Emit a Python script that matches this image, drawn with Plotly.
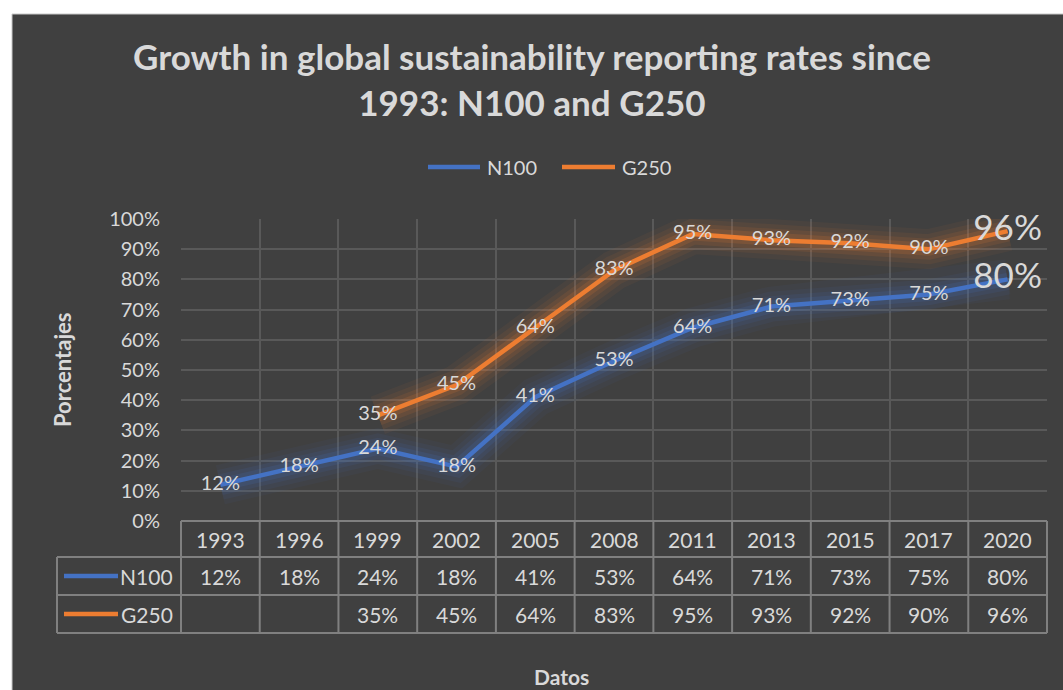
import plotly.graph_objects as go

years = ["1993", "1996", "1999", "2002", "2005", "2008", "2011", "2013", "2015", "2017", "2020"]
n100 = [12, 18, 24, 18, 41, 53, 64, 71, 73, 75, 80]
g250 = [None, None, 35, 45, 64, 83, 95, 93, 92, 90, 96]
series_names = ["N100", "G250"]
colors = ["#4472C4", "#ED7D31"]

BG = "#404040"
TXT = "#d9d9d9"
GRID = "#595959"
TBL = "#808080"
FONT = "Lato"

W, H = 1063, 690
L, R, T, B = 181, 16, 219, 169
pw = W - L - R
ph = H - T - B

def px2x(px):
    return (px - L) / pw

def px2y(py):
    return (H - B - py) / ph

fig = go.Figure()

# glow layers
for vals, col in zip([n100, g250], colors):
    for w, op in [(40, 0.05), (30, 0.07), (21, 0.10), (13, 0.15)]:
        fig.add_trace(go.Scatter(x=years, y=vals, mode="lines", line=dict(color=col, width=w),
                                 opacity=op, showlegend=False, hoverinfo="skip", connectgaps=False))

# main lines
for name, vals, col in zip(series_names, [n100, g250], colors):
    fig.add_trace(go.Scatter(x=years, y=vals, mode="lines", name=name, showlegend=False,
                             line=dict(color=col, width=4.5)))

# data labels
for vals in [n100, g250]:
    txt = [None if v is None else f"{v}%" for v in vals]
    sizes = [20] * (len(vals) - 1) + [35]
    fig.add_trace(go.Scatter(x=years, y=vals, mode="text", text=txt, textposition="middle center",
                             textfont=dict(color=TXT, size=sizes, family=FONT),
                             showlegend=False, hoverinfo="skip", cliponaxis=False))

shapes = []
annotations = []

# dark panel
shapes.append(dict(type="rect", xref="paper", yref="paper", x0=px2x(12), x1=px2x(W + 5),
                   y0=px2y(H + 5), y1=px2y(14), fillcolor=BG, line=dict(color="#c8c8c8", width=1),
                   layer="below"))

# legend (drawn)
leg_y = px2y(167)
for name, col, lx0, lx1, tx in zip(series_names, colors, [428, 562], [480, 615], [485, 620]):
    shapes.append(dict(type="line", xref="paper", yref="paper", x0=px2x(lx0), x1=px2x(lx1),
                       y0=leg_y, y1=leg_y, line=dict(color=col, width=4.5)))
    annotations.append(dict(x=px2x(tx), y=leg_y, xref="paper", yref="paper", text=name, showarrow=False,
                            xanchor="left", yanchor="middle", font=dict(color=TXT, size=20, family=FONT)))

# table geometry
rows_px = [521, 557, 595, 633]
n = len(years)
shapes.append(dict(type="line", xref="paper", yref="paper", x0=0, x1=1, y0=px2y(rows_px[0]), y1=px2y(rows_px[0]),
                   line=dict(color=TBL, width=2)))
for r in rows_px[1:]:
    shapes.append(dict(type="line", xref="paper", yref="paper", x0=px2x(57), x1=1, y0=px2y(r), y1=px2y(r),
                       line=dict(color=TBL, width=2)))
for i in range(n + 1):
    shapes.append(dict(type="line", xref="paper", yref="paper", x0=i / n, x1=i / n,
                       y0=px2y(rows_px[0]), y1=px2y(rows_px[-1]), line=dict(color=TBL, width=2)))
shapes.append(dict(type="line", xref="paper", yref="paper", x0=px2x(57), x1=px2x(57),
                   y0=px2y(rows_px[1]), y1=px2y(rows_px[-1]), line=dict(color=TBL, width=2)))

# legend keys in table
for k, col in enumerate(colors):
    yc = (rows_px[k + 1] + rows_px[k + 2]) / 2
    shapes.append(dict(type="line", xref="paper", yref="paper", x0=px2x(64), x1=px2x(118),
                       y0=px2y(yc), y1=px2y(yc), line=dict(color=col, width=4.5)))
    annotations.append(dict(x=px2x(175), y=px2y(yc), xref="paper", yref="paper", text=series_names[k],
                            showarrow=False, xanchor="right", yanchor="middle",
                            font=dict(color=TXT, size=21, family=FONT)))

# table text
hdr_y = px2y((rows_px[0] + rows_px[1]) / 2)
for i, yr in enumerate(years):
    annotations.append(dict(x=(i + 0.5) / n, y=hdr_y, xref="paper", yref="paper", text=yr, showarrow=False,
                            xanchor="center", yanchor="middle",
                            font=dict(color=TXT, size=21, family=FONT)))
for k, vals in enumerate([n100, g250]):
    yc = px2y((rows_px[k + 1] + rows_px[k + 2]) / 2)
    for i, v in enumerate(vals):
        if v is None:
            continue
        annotations.append(dict(x=(i + 0.5) / n, y=yc, xref="paper", yref="paper", text=f"{v}%",
                                showarrow=False, xanchor="center", yanchor="middle",
                                font=dict(color=TXT, size=21, family=FONT)))

# title
annotations.append(dict(x=px2x(532), y=px2y(79), xref="paper", yref="paper",
                        text="<b>Growth in global sustainability reporting rates since<br>1993: N100 and G250</b>",
                        showarrow=False, xanchor="center", yanchor="middle",
                        font=dict(color=TXT, size=35, family=FONT)))
# axis titles
annotations.append(dict(x=px2x(62), y=px2y(370), xref="paper", yref="paper", text="<b>Porcentajes</b>",
                        textangle=-90, showarrow=False, xanchor="center", yanchor="middle",
                        font=dict(color=TXT, size=22, family=FONT)))
annotations.append(dict(x=px2x(561), y=px2y(676), xref="paper", yref="paper", text="<b>Datos</b>",
                        showarrow=False, xanchor="center", yanchor="middle",
                        font=dict(color=TXT, size=21, family=FONT)))

fig.update_layout(
    width=W, height=H,
    margin=dict(l=L, r=R, t=T, b=B, autoexpand=False),
    paper_bgcolor="white",
    plot_bgcolor=BG,
    font=dict(family=FONT, color=TXT),
    shapes=shapes,
    annotations=annotations,
    showlegend=False,
    xaxis=dict(type="category", tickson="boundaries", showgrid=True, gridcolor=GRID, gridwidth=1.5,
               showticklabels=False, ticks="", zeroline=False, showline=False, range=[-0.5, 10.5]),
    yaxis=dict(range=[0, 100], dtick=10, ticksuffix="%", showgrid=True, gridcolor=GRID, gridwidth=1.5,
               zeroline=False, showline=False, ticklabelstandoff=20,
               tickfont=dict(color=TXT, size=20, family=FONT)),
    hovermode=False,
)

fig.write_html("out.html")
